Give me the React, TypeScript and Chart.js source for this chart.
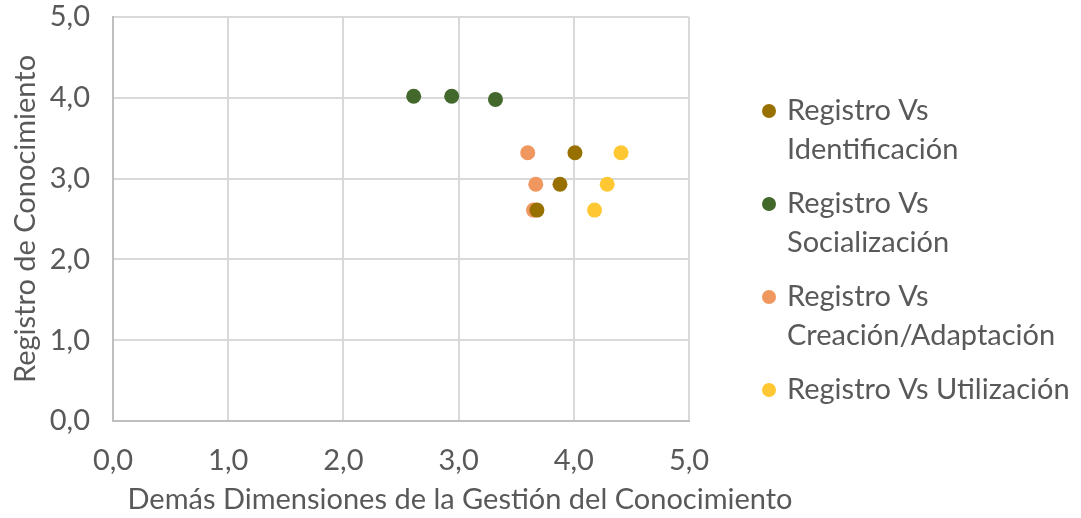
import { useEffect, useRef } from "react";
import { Chart, registerables } from "chart.js";

Chart.register(...registerables);

// Registro de Conocimiento (eje Y) frente a las demás dimensiones (eje X)
const identificacionX = [4.01, 3.88, 3.68];
const identificacionY = [3.32, 2.93, 2.61];
const socializacionX = [2.61, 2.94, 3.32];
const socializacionY = [4.02, 4.02, 3.98];
const creacionX = [3.6, 3.67, 3.65];
const creacionY = [3.32, 2.93, 2.61];
const utilizacionX = [4.41, 4.29, 4.18];
const utilizacionY = [3.32, 2.93, 2.61];

const seriesLabels = [
  ["Registro Vs", "Identificación"],
  ["Registro Vs", "Socialización"],
  ["Registro Vs", "Creación/Adaptación"],
  ["Registro Vs Utilización"],
];
const seriesColors = ["#987000", "#43682b", "#f0965f", "#ffc832"];

const axisMin = 0;
const axisMax = 5;
const axisStep = 1;

const xTitle = "Demás Dimensiones de la Gestión del Conocimiento";
const yTitle = "Registro de Conocimiento";

const FONT = "Lato, 'Open Sans', sans-serif";
const FONT_SIZE = 29;
const TEXT_COLOR = "#595959";

const toPoints = (xs: number[], ys: number[]) => xs.map((x, i) => ({ x, y: ys[i] }));

const fmt = (v: number) => v.toFixed(1).replace(".", ",");

// Draws the wrapped legend on the right and the two axis titles
const decorations = {
  id: "decorations",
  afterDraw(chart: any) {
    const ctx = chart.ctx as CanvasRenderingContext2D;
    const area = chart.chartArea;
    ctx.save();
    ctx.fillStyle = TEXT_COLOR;

    // axis titles
    ctx.font = `${FONT_SIZE}px ${FONT}`;
    ctx.textAlign = "center";
    ctx.textBaseline = "middle";
    ctx.fillText(xTitle, 460, 500);
    ctx.save();
    ctx.translate(26, (area.top + area.bottom) / 2);
    ctx.rotate(-Math.PI / 2);
    ctx.fillText(yTitle, 0, 0);
    ctx.restore();

    // legend
    const lineH = 39;
    const gap = 15;
    let y = 111;
    ctx.textAlign = "left";
    seriesLabels.forEach((lines, i) => {
      ctx.beginPath();
      ctx.fillStyle = seriesColors[i];
      ctx.arc(769, y, 7, 0, Math.PI * 2);
      ctx.fill();
      ctx.fillStyle = TEXT_COLOR;
      lines.forEach((t, j) => ctx.fillText(t, 787, y + j * lineH));
      y += lines.length * lineH + gap;
    });
    ctx.restore();
  },
};

export default function App() {
  const ref = useRef<HTMLCanvasElement | null>(null);

  useEffect(() => {
    document.body.style.margin = "0";
    const canvas = ref.current;
    if (!canvas) return;

    const mk = (label: string, xs: number[], ys: number[], color: string) => ({
      label,
      data: toPoints(xs, ys),
      backgroundColor: color,
      borderColor: color,
      borderWidth: 0,
      pointRadius: 7.5,
      pointHoverRadius: 7.5,
    });

    const chart = new Chart(canvas, {
      type: "scatter",
      data: {
        datasets: [
          mk(seriesLabels[0].join(" "), identificacionX, identificacionY, seriesColors[0]),
          mk(seriesLabels[1].join(" "), socializacionX, socializacionY, seriesColors[1]),
          mk(seriesLabels[2].join(" "), creacionX, creacionY, seriesColors[2]),
          mk(seriesLabels[3].join(" "), utilizacionX, utilizacionY, seriesColors[3]),
        ],
      },
      options: {
        animation: false,
        responsive: false,
        layout: { padding: { top: 0, right: 392, left: 0, bottom: 0 } },
        plugins: {
          legend: { display: false },
          tooltip: { enabled: false },
        },
        scales: {
          x: {
            type: "linear",
            min: axisMin,
            max: axisMax,
            afterFit: (s: any) => {
              s.height = 97;
            },
            ticks: {
              stepSize: axisStep,
              padding: 22,
              color: TEXT_COLOR,
              font: { family: FONT, size: FONT_SIZE },
              callback: (v: any) => fmt(Number(v)),
              maxRotation: 0,
            },
            grid: { color: "#d9d9d9", lineWidth: 2, drawTicks: false },
            border: { color: "#bfbfbf", width: 2 },
          },
          y: {
            type: "linear",
            min: axisMin,
            max: axisMax,
            afterFit: (s: any) => {
              s.width = 113;
              s.paddingTop = 17;
              s.paddingBottom = 0;
            },
            ticks: {
              stepSize: axisStep,
              padding: 23,
              color: TEXT_COLOR,
              font: { family: FONT, size: FONT_SIZE },
              callback: (v: any) => fmt(Number(v)),
            },
            grid: { color: "#d9d9d9", lineWidth: 2, drawTicks: false },
            border: { color: "#bfbfbf", width: 2 },
          },
        },
      },
      plugins: [decorations],
    });

    return () => chart.destroy();
  }, []);

  return (
    <div style={{ width: 1081, height: 518, background: "#ffffff" }}>
      <canvas ref={ref} width={1081} height={518} style={{ display: "block" }} />
    </div>
  );
}
